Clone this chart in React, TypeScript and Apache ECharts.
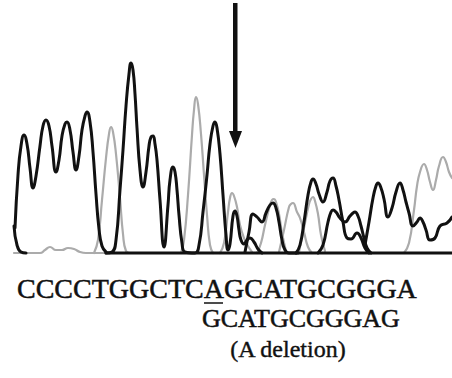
import React, { useEffect, useRef } from "react";
import * as echarts from "echarts";

// Scan position (x) vs signal intensity (y).
const blackTail: number[][] = [[0, 28], [3, 9], [7, 2], [12, 1]];
const blackA: number[][] = [
  [1, 26], [4, 79], [7, 108], [10, 119], [13, 110], [16, 86], [19, 66], [22, 78], [26, 108], [29, 128],
  [32, 134], [35, 128], [38, 108], [42, 82], [45, 94], [48, 118], [51, 130], [53, 132], [56, 124], [59, 102],
  [62, 84], [65, 98], [68, 124], [71, 138], [73, 142], [76, 132], [79, 102], [82, 60], [85, 25], [88, 8], [92, 2],
];
const blackB: number[][] = [
  [92, 1], [98, 2], [102, 14], [106, 64], [109, 104], [112, 148], [115, 180], [117, 191], [119, 184], [121, 160],
  [123, 126], [126, 84], [129, 67], [132, 82], [135, 108], [137, 117], [139, 118], [141, 110], [143, 94], [146, 54],
  [150, 7], [154, 49], [156, 74], [159, 87], [161, 82], [163, 64], [165, 39], [168, 11], [171, 2], [181, 1],
  [185, 9], [189, 42], [193, 79], [196, 110], [199, 128], [201, 132], [203, 126], [206, 100], [209, 59], [212, 19],
  [214, 4], [216, 10], [219, 38], [221, 43], [223, 38], [225, 24], [227, 14], [230, 10], [233, 14], [236, 16],
  [240, 12], [244, 5], [248, 1],
];
const blackF: number[][] = [
  [231, 2], [235, 22], [239, 40], [243, 37], [248, 32], [252, 41], [256, 49], [259, 51], [262, 46], [265, 32],
  [268, 14], [271, 4], [275, 1], [284, 1],
];
const blackC: number[][] = [
  [282, 1], [286, 9], [290, 32], [294, 59], [297, 72], [299, 75], [302, 70], [305, 60], [309, 52], [313, 62],
  [316, 73], [319, 76], [322, 68], [325, 54], [329, 32], [333, 16], [337, 15], [343, 21], [347, 16], [351, 6],
  [355, 1],
];
const blackD: number[][] = [
  [304, 1], [309, 9], [314, 32], [317, 42], [319, 44], [322, 42], [326, 36], [331, 32], [336, 38], [339, 41],
  [341, 42], [344, 38], [347, 28], [350, 16], [353, 6], [357, 1],
];
const blackE: number[][] = [
  [351, 9], [355, 32], [359, 56], [362, 68], [364, 71], [367, 66], [370, 55], [374, 37], [378, 46], [382, 62],
  [386, 71], [389, 64], [392, 52], [395, 41], [399, 28], [403, 32], [406, 36], [409, 32], [412, 24], [416, 14],
  [421, 16], [426, 28], [433, 31], [438, 37],
];
const blackBase: number[][] = [[92, 1], [438, 1]];

const grayBase: number[][] = [
  [0, 1], [26, 1], [31, 4], [36, 7], [42, 4], [48, 4], [54, 6], [60, 5], [66, 2], [72, 1], [438, 1],
];
const gray1: number[][] = [
  [80, 1], [84, 14], [88, 54], [92, 96], [95, 120], [97, 127], [99, 122], [102, 100], [106, 56], [109, 20],
  [112, 3], [116, 1],
];
const gray2: number[][] = [
  [167, 1], [170, 14], [174, 59], [178, 119], [180, 144], [182, 157], [184, 150], [187, 120], [190, 79], [193, 39],
  [196, 9], [199, 1],
];
const gray3: number[][] = [
  [206, 1], [210, 11], [214, 42], [216, 56], [218, 61], [220, 58], [223, 47], [226, 29], [230, 16], [234, 8],
  [238, 2],
];
const gray4: number[][] = [
  [243, 1], [247, 11], [251, 29], [256, 49], [258, 54], [260, 55], [262, 52], [265, 40], [268, 21], [272, 3],
];
const gray5: number[][] = [
  [265, 2], [270, 24], [275, 47], [277, 50], [279, 51], [283, 42], [286, 36], [290, 22], [294, 7], [298, 1],
];
const gray6: number[][] = [
  [285, 2], [290, 26], [295, 50], [297, 55], [299, 57], [301, 53], [304, 40], [307, 19], [311, 3],
];
const gray7: number[][] = [
  [390, 1], [395, 11], [400, 44], [403, 68], [406, 82], [410, 90], [413, 84], [416, 72], [419, 64], [422, 74],
  [425, 88], [429, 97], [432, 92], [435, 82], [438, 76],
];

const grayTraces = [grayBase, gray1, gray2, gray3, gray4, gray5, gray6, gray7];
const blackTraces = [blackBase, blackTail, blackA, blackB, blackF, blackC, blackD, blackE];

const seqWild = "CCCCTGGCTCAGCATGCGGGA";
const seqMut = "GCATGCGGGAG";
const note = "(A deletion)";

export default function App() {
  const ref = useRef<HTMLDivElement>(null);
  useEffect(() => {
    if (!ref.current) return;
    const chart = echarts.init(ref.current, null, { renderer: "svg" });
    const mk = (d: number[][], color: string, width: number, z: number) => ({
      type: "line",
      data: d,
      smooth: 0.5,
      symbol: "none",
      silent: true,
      z,
      lineStyle: { color, width, cap: "round", join: "round" },
    });
    const serif = '"Liberation Serif", "Times New Roman", serif';
    chart.setOption({
      animation: false,
      backgroundColor: "#ffffff",
      grid: { left: 14, top: 0, width: 438, height: 254 },
      xAxis: { type: "value", min: 0, max: 438, show: false },
      yAxis: { type: "value", min: 0, max: 254, show: false },
      series: [
        ...grayTraces.map((d) => mk(d, "#ababab", 2.2, 2)),
        ...blackTraces.map((d) => mk(d, "#111111", 3, 3)),
      ],
      graphic: [
        { type: "rect", shape: { x: 233, y: 3, width: 4.5, height: 130 }, style: { fill: "#111" } },
        {
          type: "polygon",
          shape: { points: [[229, 131], [242, 131], [235.5, 148]] },
          style: { fill: "#111" },
        },
        {
          type: "text",
          x: 17,
          y: 288,
          style: {
            text: seqWild, font: `28px ${serif}`, fill: "#111", stroke: "#111", lineWidth: 0.5,
            align: "left", verticalAlign: "middle",
          },
        },
        { type: "line", shape: { x1: 204, y1: 303, x2: 223, y2: 303 }, style: { stroke: "#111", lineWidth: 1.5 } },
        {
          type: "text",
          x: 202,
          y: 318,
          style: {
            text: seqMut, font: `26px ${serif}`, fill: "#111", stroke: "#111", lineWidth: 0.5,
            align: "left", verticalAlign: "middle",
          },
        },
        {
          type: "text",
          x: 288,
          y: 349,
          style: {
            text: note, font: `24px ${serif}`, fill: "#111", stroke: "#111", lineWidth: 0.4,
            align: "center", verticalAlign: "middle",
          },
        },
      ],
    });
    return () => chart.dispose();
  }, []);
  return (
    <div
      ref={ref}
      style={{ position: "fixed", left: 0, top: 0, width: 452, height: 378, background: "#fff" }}
    />
  );
}
